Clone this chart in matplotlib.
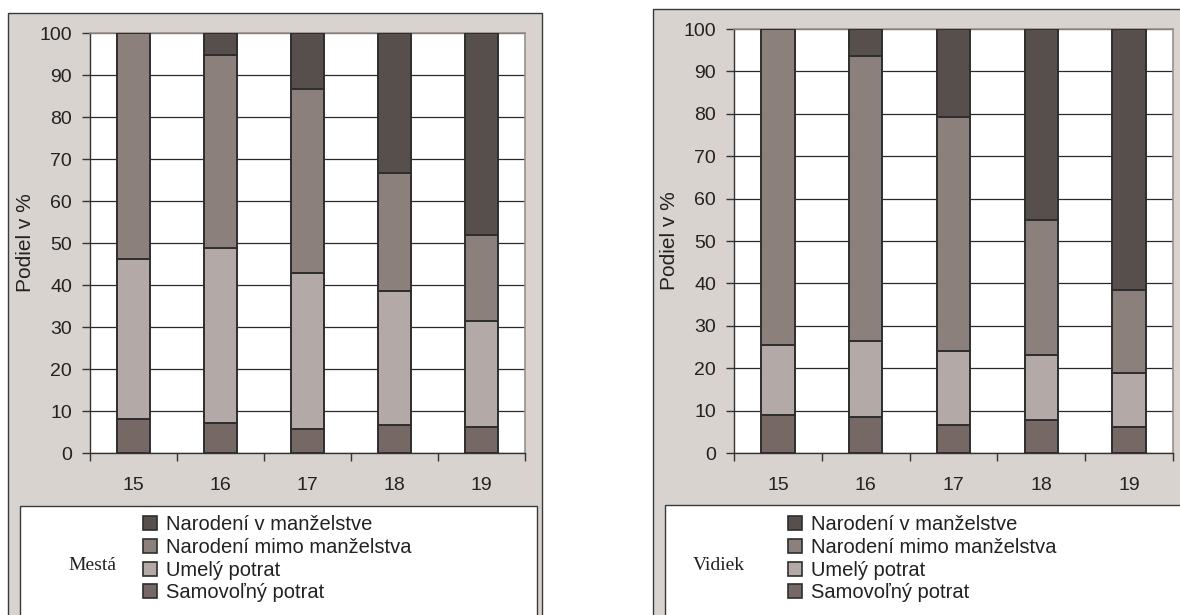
import matplotlib.pyplot as plt
import numpy as np
from matplotlib.patches import Rectangle

# Vek (roky) a podiely jednotlivých výsledkov tehotenstva v %
ages = ['15', '16', '17', '18', '19']
series = ['Samovoľný potrat', 'Umelý potrat', 'Narodení mimo manželstva', 'Narodení v manželstve']

mesta_samovolny = [8.1, 7.1, 5.7, 6.7, 6.3]
mesta_umely = [38.2, 41.6, 37.2, 31.8, 25.1]
mesta_mimo = [53.7, 46.1, 43.8, 28.2, 20.5]
mesta_manzelstvo = [0.0, 5.2, 13.3, 33.3, 48.1]

vidiek_samovolny = [9.0, 8.5, 6.6, 7.9, 6.1]
vidiek_umely = [16.4, 17.8, 17.5, 15.1, 12.7]
vidiek_mimo = [74.6, 67.4, 55.1, 32.0, 19.7]
vidiek_manzelstvo = [0.0, 6.3, 20.8, 45.0, 61.5]

colors = ['#766864', '#b3a9a6', '#8c807c', '#574f4c']
panel_bg = '#d9d3d0'
text_col = '#222222'

W, H = 1180, 615
fig = plt.figure(figsize=(W / 100, H / 100), dpi=100)
fig.patch.set_facecolor('white')
plt.rcParams['font.family'] = ['Liberation Sans', 'DejaVu Sans']


def px_rect(x0, y0, x1, y1, **kw):
    # obdĺžnik v pixeloch (y zhora) prevedený na súradnice obrázka
    r = Rectangle((x0 / W, 1 - y1 / H), (x1 - x0) / W, (y1 - y0) / H,
                  transform=fig.transFigure, clip_on=False, **kw)
    fig.add_artist(r)
    return r


def draw_panel(frame, plot_box, legend_box, title, title_x, legend_x, parts):
    px_rect(*frame, facecolor=panel_bg, edgecolor='#3a3a3a', linewidth=1.0, zorder=0)
    px_rect(*legend_box, facecolor='white', edgecolor='#3a3a3a', linewidth=1.0, zorder=1)

    x0, y0, x1, y1 = plot_box
    ax = fig.add_axes([x0 / W, 1 - y1 / H, (x1 - x0) / W, (y1 - y0) / H])
    ax.set_facecolor('white')

    x = np.arange(len(ages))
    bottom = np.zeros(len(ages))
    handles = []
    for vals, col, name in zip(parts, colors, series):
        bars = ax.bar(x, vals, width=0.38, bottom=bottom, color=col,
                      edgecolor='#2e2e2e', linewidth=1.4, label=name, zorder=3)
        handles.append(bars)
        bottom += np.array(vals)

    ax.set_xlim(-0.5, len(ages) - 0.5)
    ax.set_ylim(0, 100)
    ax.set_yticks(np.arange(0, 101, 10))
    ax.yaxis.grid(True, color='#2a2a2a', linewidth=0.9, zorder=1)
    ax.set_axisbelow(True)

    ax.set_xticks(x)
    ax.set_xticklabels(ages)
    ax.set_xticks(np.arange(-0.5, len(ages)), minor=True)
    ax.tick_params(axis='x', which='major', length=0, pad=17, labelsize=14, colors=text_col)
    ax.tick_params(axis='x', which='minor', length=6, width=1, color='#333333')
    ax.tick_params(axis='y', length=6, width=1, color='#333333', labelsize=14,
                   labelcolor=text_col, pad=7)

    for side in ['left', 'bottom']:
        ax.spines[side].set_color('#333333')
        ax.spines[side].set_linewidth(1.0)
    for side in ['top', 'right']:
        ax.spines[side].set_color('#9a8f8b')
        ax.spines[side].set_linewidth(1.2)

    ax.set_ylabel('Podiel v %', fontsize=15, color=text_col, labelpad=3)

    # legenda so štvorcovými značkami, poradie zhora nadol
    leg = fig.legend(handles[::-1], series[::-1], loc='upper left',
                     bbox_to_anchor=(legend_x / W, 1 - 515 / H),
                     frameon=False, fontsize=14.5, handlelength=0.7, handleheight=0.7,
                     handletextpad=0.45, labelspacing=0.19, borderpad=0, borderaxespad=0)
    for t in leg.get_texts():
        t.set_color(text_col)
    for p in leg.get_patches():
        p.set_edgecolor('#2e2e2e')
        p.set_linewidth(1.2)

    fig.text(title_x / W, 1 - 566 / H, title, family='Liberation Serif',
             fontsize=14, color=text_col, ha='left', va='center')
    return ax


draw_panel((8, 13, 542, 650), (90, 33, 525, 453), (20, 506, 537, 660),
           'Mestá', 68, 143,
           [mesta_samovolny, mesta_umely, mesta_mimo, mesta_manzelstvo])

draw_panel((653, 9, 1190, 650), (734, 29, 1173, 453), (665, 505, 1190, 660),
           'Vidiek', 693, 788,
           [vidiek_samovolny, vidiek_umely, vidiek_mimo, vidiek_manzelstvo])

fig.savefig('out.png', dpi=100, facecolor='white')
